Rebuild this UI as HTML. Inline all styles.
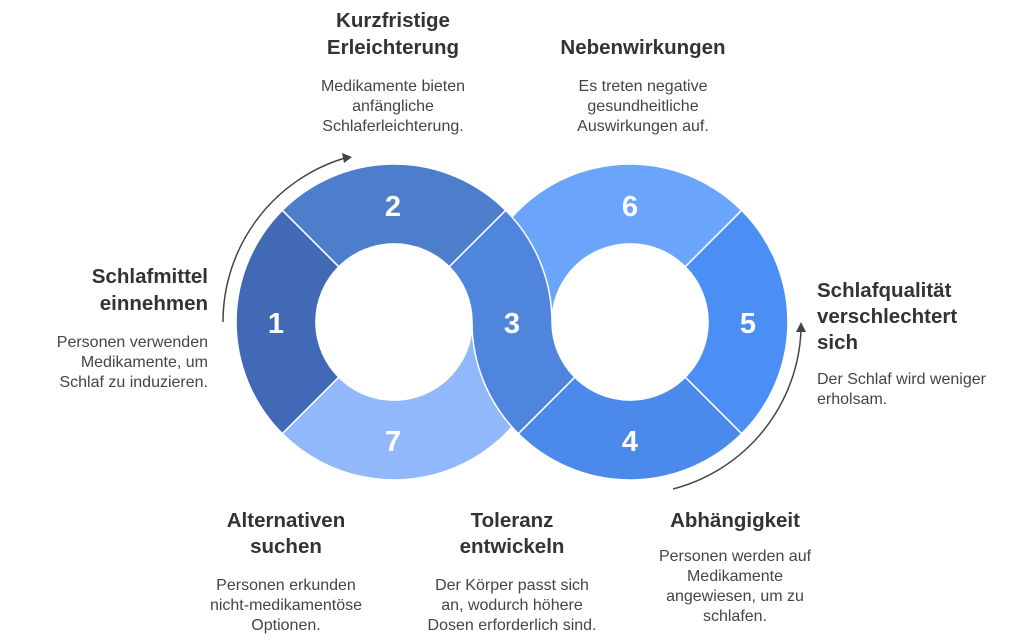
<!DOCTYPE html>
<html><head><meta charset="utf-8"><style>
html,body{margin:0;padding:0;background:#fff;}
svg{display:block;}
.t{font-family:"Liberation Sans",sans-serif;font-weight:bold;font-size:20.5px;fill:#333;}
.b{font-family:"Liberation Sans",sans-serif;font-size:16px;fill:#444;}
.n{font-family:"Liberation Sans",sans-serif;font-weight:bold;font-size:29px;fill:#fff;text-anchor:middle;}
</style></head><body>
<svg width="1024" height="642" viewBox="0 0 1024 642" xmlns="http://www.w3.org/2000/svg">
<g stroke="#fff" stroke-width="1.5">
<path fill="#4d7ecb" d="M282.3,210.3 A158,158 0 0 1 505.7,210.3 L449.2,266.8 A78,78 0 0 0 338.8,266.8 Z"/>
<path fill="#4169b5" d="M282.3,433.7 A158,158 0 0 1 282.3,210.3 L338.8,266.8 A78,78 0 0 0 338.8,377.2 Z"/>
<path fill="#91b8fa" d="M552,322 A158,158 0 0 1 282.3,433.7 L338.8,377.2 A78,78 0 0 0 472,322 Z"/>
<path fill="#6aa4fb" d="M472,322 A158,158 0 0 1 741.7,210.3 L685.2,266.8 A78,78 0 0 0 552,322 Z"/>
<path fill="#4b8ff5" d="M741.7,210.3 A158,158 0 0 1 741.7,433.7 L685.2,377.2 A78,78 0 0 0 685.2,266.8 Z"/>
<path fill="#4b89ea" d="M741.7,433.7 A158,158 0 0 1 518.3,433.7 L574.8,377.2 A78,78 0 0 0 685.2,377.2 Z"/>
<path fill="#4f85dc" d="M505.7,210.3 A158,158 0 0 1 552,322 A78,78 0 0 0 574.8,377.2 L518.3,433.7 A158,158 0 0 1 472,322 A78,78 0 0 0 449.2,266.8 Z"/>
</g>
<text class="n" x="276" y="333">1</text>
<text class="n" x="393" y="216">2</text>
<text class="n" x="512" y="333">3</text>
<text class="n" x="630" y="451">4</text>
<text class="n" x="748" y="333">5</text>
<text class="n" x="630" y="216">6</text>
<text class="n" x="393" y="451">7</text>
<g fill="none" stroke="#444" stroke-width="1.5">
<path d="M223,322 A171,171 0 0 1 345,158"/>
<path d="M673,489 A171,171 0 0 0 801,330"/>
</g>
<polygon fill="#444" points="352,157 342,153 344,163"/>
<polygon fill="#444" points="801,322 796,332 806,332"/>
<g class="t" text-anchor="middle">
<text x="393" y="27">Kurzfristige</text><text x="393" y="54">Erleichterung</text>
<text x="643" y="54">Nebenwirkungen</text>
<text x="286" y="527">Alternativen</text><text x="286" y="553">suchen</text>
<text x="512" y="527">Toleranz</text><text x="512" y="553">entwickeln</text>
<text x="735" y="527">Abhängigkeit</text>
</g>
<g class="t" text-anchor="end"><text x="208" y="283">Schlafmittel</text><text x="208" y="310">einnehmen</text></g>
<g class="t"><text x="817" y="297">Schlafqualität</text><text x="817" y="323">verschlechtert</text><text x="817" y="349">sich</text></g>
<g class="b" text-anchor="middle">
<text x="393" y="91">Medikamente bieten</text><text x="393" y="111">anfängliche</text><text x="393" y="131">Schlaferleichterung.</text>
<text x="643" y="91">Es treten negative</text><text x="643" y="111">gesundheitliche</text><text x="643" y="131">Auswirkungen auf.</text>
<text x="286" y="590">Personen erkunden</text><text x="286" y="610">nicht-medikamentöse</text><text x="286" y="630">Optionen.</text>
<text x="512" y="590">Der Körper passt sich</text><text x="512" y="610">an, wodurch höhere</text><text x="512" y="630">Dosen erforderlich sind.</text>
<text x="735" y="561">Personen werden auf</text><text x="735" y="581">Medikamente</text><text x="735" y="601">angewiesen, um zu</text><text x="735" y="621">schlafen.</text>
</g>
<g class="b" text-anchor="end"><text x="208" y="347">Personen verwenden</text><text x="208" y="367">Medikamente, um</text><text x="208" y="387">Schlaf zu induzieren.</text></g>
<g class="b"><text x="817" y="384">Der Schlaf wird weniger</text><text x="817" y="404">erholsam.</text></g>
</svg>
</body></html>
